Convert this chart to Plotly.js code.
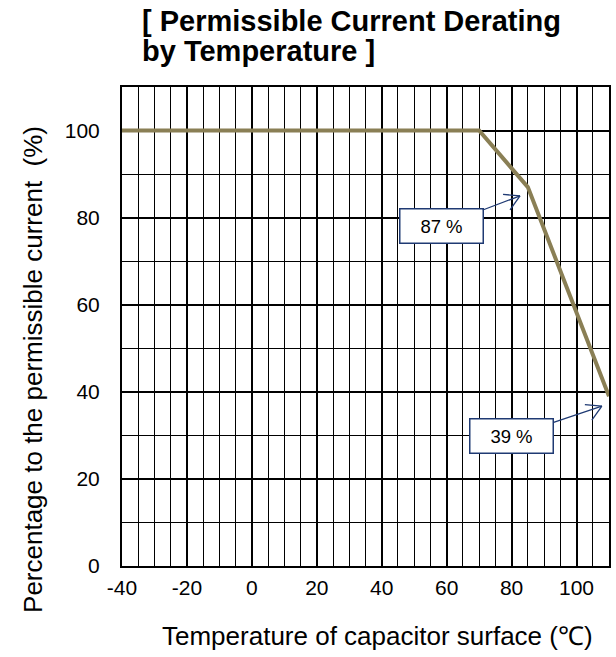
<!DOCTYPE html>
<html>
<head>
<meta charset="utf-8">
<script src="https://cdn.plot.ly/plotly-3.0.1.min.js"></script>
<style>html,body{margin:0;padding:0;background:#fff;}#chart{width:616px;height:657px;}</style>
</head>
<body>
<div id="chart"></div>
<script>
// ---- data ----
const temperature = [-40, 70, 85, 110];
const permissiblePct = [100, 100, 87, 39];
const xTickVals = [-40, -20, 0, 20, 40, 60, 80, 100];
const yTickVals = [0, 20, 40, 60, 80, 100];
const calloutLabels = ['87 %', '39 %'];
const titleLines = ['[ Permissible Current Derating', 'by Temperature ]'];
const xTitle = 'Temperature of capacitor surface (\u2103)';
const yTitle = 'Percentage to the permissible current  (%)';

const FONT = 'Arial, "Liberation Sans", sans-serif';
const NAVY = '#1f3a73';

// callout arrow heads (data coords) and text-box offsets (px)
const callouts = [
  {hx: 82.6, hy: 85.0, ax: -79, ay: 30, text: calloutLabels[0]},
  {hx: 107.8, hy: 36.7, ax: -90, ay: 30, text: calloutLabels[1]}
];

const annotations = [];
const shapes = [];
callouts.forEach(c => {
  annotations.push({
    x: c.hx, y: c.hy, xref: 'x', yref: 'y',
    ax: c.ax, ay: c.ay, axref: 'pixel', ayref: 'pixel',
    text: c.text, showarrow: true, arrowhead: 0, arrowwidth: 1.3,
    arrowcolor: NAVY, standoff: 0,
    font: {family: FONT, size: 18.5, color: '#000'},
    bgcolor: '#fff', bordercolor: NAVY, borderwidth: 1.5, borderpad: 1,
    width: 80, height: 31
  });
  [[-17, 1.5], [-10, -14]].forEach(b => {
    shapes.push({
      type: 'line', xref: 'x', yref: 'y',
      xsizemode: 'pixel', ysizemode: 'pixel',
      xanchor: c.hx, yanchor: c.hy,
      x0: 0, y0: 0, x1: b[0], y1: b[1],
      line: {color: NAVY, width: 1.3}
    });
  });
});

// title lines
annotations.push({
  xref: 'paper', yref: 'paper', x: 0.0377, y: 1.1378, xanchor: 'left', yanchor: 'middle',
  text: '<b>' + titleLines[0] + '</b>', showarrow: false,
  font: {family: FONT, size: 29, color: '#000'}
});
annotations.push({
  xref: 'paper', yref: 'paper', x: 0.0377, y: 1.0752, xanchor: 'left', yanchor: 'middle',
  text: '<b>' + titleLines[1] + '</b>', showarrow: false,
  font: {family: FONT, size: 29, color: '#000'}
});
// axis titles
annotations.push({
  xref: 'paper', yref: 'paper', x: 0.5246, y: -0.146, xanchor: 'center', yanchor: 'middle',
  text: xTitle, showarrow: false,
  font: {family: FONT, size: 26, color: '#000'}
});
annotations.push({
  xref: 'paper', yref: 'paper', x: -0.1828, y: 0.4113, xanchor: 'center', yanchor: 'middle',
  text: yTitle, textangle: -90, showarrow: false,
  font: {family: FONT, size: 26, color: '#000'}
});

const trace = {
  x: temperature, y: permissiblePct, type: 'scatter', mode: 'lines',
  line: {color: '#8a7f55', width: 4}, hoverinfo: 'skip', cliponaxis: false
};

const layout = {
  width: 616, height: 657,
  margin: {l: 122, r: 7, t: 87, b: 91},
  paper_bgcolor: '#fff', plot_bgcolor: '#fff',
  showlegend: false,
  font: {family: FONT, color: '#000'},
  xaxis: {
    range: [-40, 110], tickmode: 'array', tickvals: xTickVals,
    ticktext: xTickVals.map(String),
    tickfont: {family: FONT, size: 21, color: '#000'},
    showgrid: true, gridcolor: '#000', gridwidth: 2,
    minor: {dtick: 5, tick0: -40, showgrid: true, gridcolor: '#000', gridwidth: 1},
    zeroline: false, showline: true, linecolor: '#000', linewidth: 2, mirror: true,
    ticks: '', ticklabelstandoff: 2, fixedrange: true
  },
  yaxis: {
    range: [0, 110], tickmode: 'array', tickvals: yTickVals,
    ticktext: yTickVals.map(String),
    tickfont: {family: FONT, size: 21, color: '#000'},
    showgrid: true, gridcolor: '#000', gridwidth: 2,
    minor: {dtick: 10, tick0: 0, showgrid: true, gridcolor: '#000', gridwidth: 1},
    zeroline: false, showline: true, linecolor: '#000', linewidth: 2, mirror: true,
    ticks: '', ticklabelstandoff: 16, fixedrange: true
  },
  annotations: annotations,
  shapes: shapes
};

Plotly.newPlot('chart', [trace], layout, {displayModeBar: false, staticPlot: true});
</script>
</body>
</html>
